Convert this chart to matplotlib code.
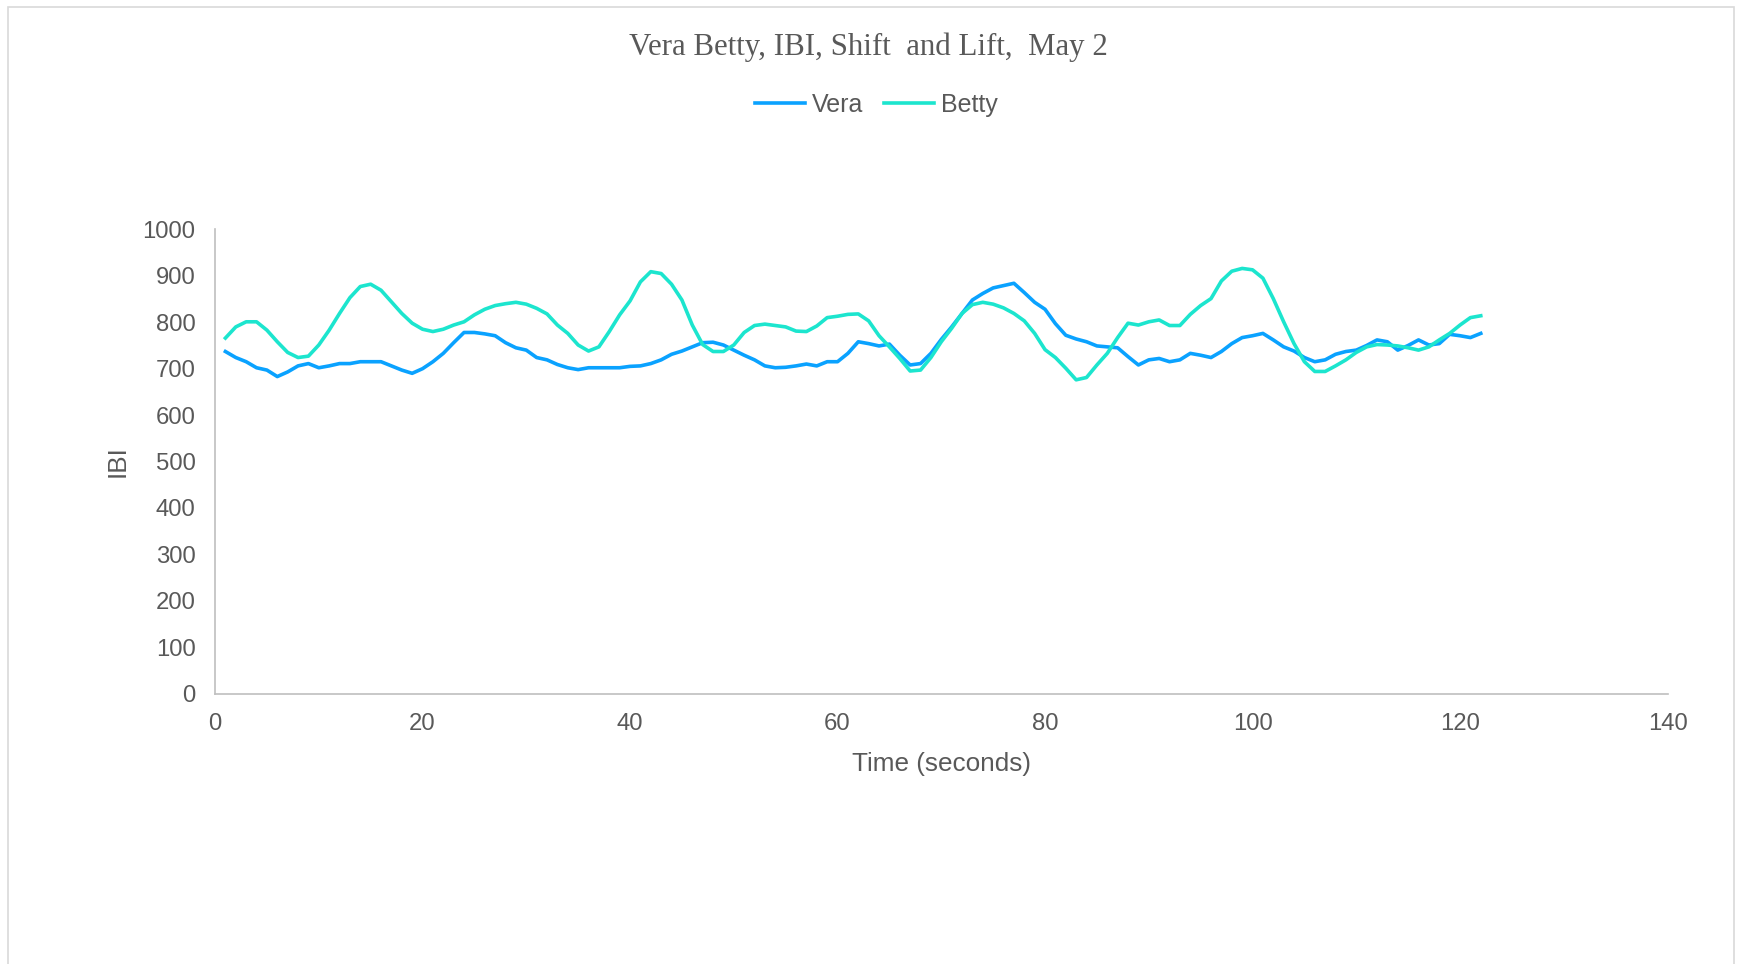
import numpy as np
import matplotlib.pyplot as plt
from matplotlib.patches import Rectangle

plt.rcParams["font.family"] = ["Liberation Sans", "DejaVu Sans"]

# IBI samples, one per second
seconds = list(range(1, 123))

vera = [
    737, 724, 715, 702, 697, 683, 693, 706, 711, 702,
    706, 711, 711, 715, 715, 715, 706, 697, 690, 700,
    715, 733, 756, 778, 778, 775, 771, 756, 745, 740,
    724, 719, 709, 702, 698, 702, 702, 702, 702, 705,
    706, 711, 719, 731, 738, 747, 756, 757, 751, 740,
    729, 719, 706, 702, 703, 706, 710, 706, 715, 715,
    733, 758, 754, 749, 753, 729, 708, 711, 733, 763,
    790, 819, 848, 862, 874, 879, 884, 864, 843, 828,
    797, 772, 764, 758, 749, 747, 745, 726, 708, 719,
    722, 715, 719, 733, 729, 724, 737, 754, 767, 771,
    776, 762, 747, 738, 724, 715, 719, 731, 737, 740,
    750, 762, 758, 740, 750, 762, 751, 754, 774, 771,
    767, 776,
]

betty = [
    766, 790, 801, 801, 783, 758, 735, 724, 727, 751,
    783, 819, 853, 877, 882, 869, 844, 819, 798, 785,
    780, 785, 794, 801, 816, 828, 836, 840, 843, 839,
    830, 818, 794, 776, 751, 738, 747, 780, 816, 846,
    887, 909, 905, 882, 848, 794, 752, 737, 737, 751,
    778, 793, 796, 793, 790, 781, 780, 792, 810, 813,
    817, 818, 803, 771, 747, 722, 695, 697, 724, 758,
    787, 819, 838, 843, 839, 831, 819, 803, 776, 741,
    724, 701, 676, 681, 708, 733, 767, 798, 794, 801,
    805, 793, 793, 817, 836, 851, 889, 910, 916, 913,
    895, 851, 801, 754, 715, 694, 694, 706, 719, 735,
    747, 752, 751, 749, 745, 740, 747, 762, 776, 794,
    810, 814,
]

text_grey = "#595959"
axis_grey = "#BFBFBF"

fig = plt.figure(figsize=(17.37, 9.64), dpi=100)
fig.patches.append(Rectangle((0.0045, -0.01), 0.9935, 1.003, transform=fig.transFigure,
                             fill=False, edgecolor="#D9D9D9", linewidth=1.2))

ax = fig.add_axes([0.1238, 0.2805, 0.8362, 0.4815])
ax.plot(seconds, vera, color="#0AA2FF", linewidth=2.6, label="Vera")
ax.plot(seconds, betty, color="#1CE5CE", linewidth=2.6, label="Betty")

ax.set_xlim(0, 140)
ax.set_ylim(0, 1000)
ax.set_xticks(np.arange(0, 141, 20))
ax.set_yticks(np.arange(0, 1001, 100))
ax.tick_params(length=0, labelsize=17.2, labelcolor=text_grey, pad=14)
for side in ("top", "right"):
    ax.spines[side].set_visible(False)
for side in ("left", "bottom"):
    ax.spines[side].set_color(axis_grey)
    ax.spines[side].set_linewidth(1.2)

ax.set_xlabel("Time (seconds)", fontsize=18.8, color=text_grey, labelpad=12)
ax.set_ylabel("IBI", fontsize=18.8, color=text_grey, labelpad=9)

fig.text(0.5, 0.951, "Vera Betty, IBI, Shift  and Lift,  May 2", ha="center", va="center",
         family="Liberation Serif", fontsize=22.2, color=text_grey)

fig.legend(loc="center", bbox_to_anchor=(0.5045, 0.891), ncol=2, frameon=False,
           fontsize=18, labelcolor=text_grey, handlelength=2.0, handletextpad=0.3,
           columnspacing=0.8)

fig.savefig("out.png", dpi=100)
